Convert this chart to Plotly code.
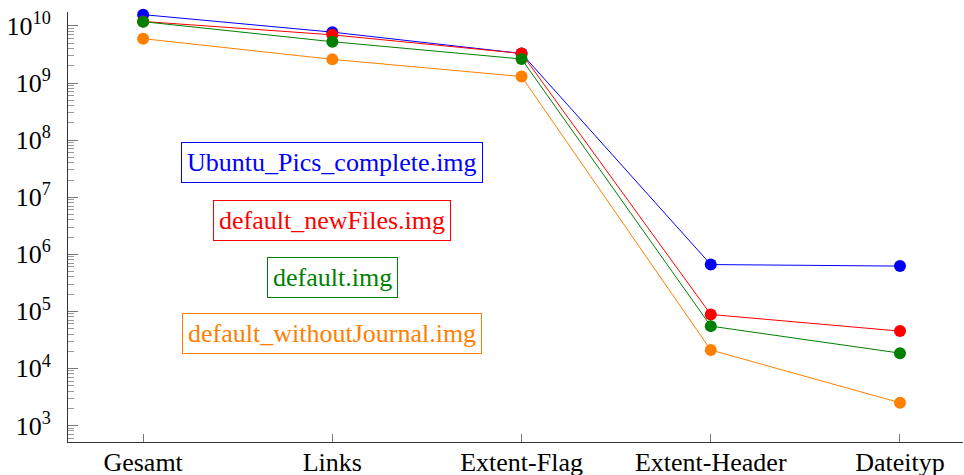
import plotly.graph_objects as go

categories = ["Gesamt", "Links", "Extent-Flag", "Extent-Header", "Dateityp"]

ubuntu_pics = [1.58e10, 7.8e9, 3.3e9, 6.6e5, 6.2e5]
default_newfiles = [1.2e10, 7.0e9, 3.3e9, 8.8e4, 4.5e4]
default_img = [1.19e10, 5.3e9, 2.64e9, 5.5e4, 1.85e4]
default_without_journal = [6.0e9, 2.6e9, 1.3e9, 2.1e4, 2.5e3]

series_names = ["Ubuntu_Pics_complete.img", "default_newFiles.img",
                "default.img", "default_withoutJournal.img"]
series_values = [ubuntu_pics, default_newfiles, default_img, default_without_journal]
colors = ["#0000FF", "#FF0000", "#008000", "#FF8000"]

y_tick_exponents = [3, 4, 5, 6, 7, 8, 9, 10]

FONT = "'Liberation Serif', 'Times New Roman', Times, serif"

fig = go.Figure()
for i in range(4):
    fig.add_trace(go.Scatter(
        x=categories, y=series_values[i], name=series_names[i],
        mode="lines+markers",
        line=dict(color=colors[i], width=1),
        marker=dict(color=colors[i], size=12),
        cliponaxis=False,
        showlegend=False,
    ))

minor_vals = [k * 10 ** d for d in range(2, 11) for k in range(2, 10)]

fig.update_layout(
    width=964, height=475,
    margin=dict(l=68, r=1, t=12, b=33),
    plot_bgcolor="white", paper_bgcolor="white",
    font=dict(family=FONT, size=26, color="black"),
    xaxis=dict(
        type="category",
        range=[-0.397, 4.333],
        automargin=False,
        showline=True, linecolor="#333", linewidth=1,
        ticks="inside", ticklen=8, tickcolor="#777",
        ticklabelstandoff=-3,
        showgrid=False, zeroline=False,
        tickfont=dict(family=FONT, size=26, color="black"),
    ),
    yaxis=dict(
        type="log",
        range=[2.71, 10.245],
        automargin=False,
        showline=True, linecolor="#333", linewidth=1,
        tickmode="array",
        tickvals=[10 ** e for e in y_tick_exponents],
        ticktext=["10<sup>%d</sup>" % e for e in y_tick_exponents],
        ticks="inside", ticklen=10, tickcolor="#777",
        ticklabelstandoff=11,
        minor=dict(tickmode="array", tickvals=minor_vals, ticks="inside",
                   ticklen=6, tickcolor="#999", showgrid=False),
        showgrid=False, zeroline=False,
        tickfont=dict(family=FONT, size=26, color="black"),
    ),
)

label_y = [7.61, 6.60, 5.60, 4.61]
for name, c, ly in zip(series_names, colors, label_y):
    fig.add_annotation(
        x=1, y=ly, xref="x", yref="y", text=name, showarrow=False,
        font=dict(family=FONT, size=26, color=c),
        bordercolor=c, borderwidth=1, borderpad=5, bgcolor="white",
    )

fig.write_html(
    "out.html",
    config={"displayModeBar": False},
    post_script="document.body.style.margin='0';document.body.style.overflow='hidden';",
)
